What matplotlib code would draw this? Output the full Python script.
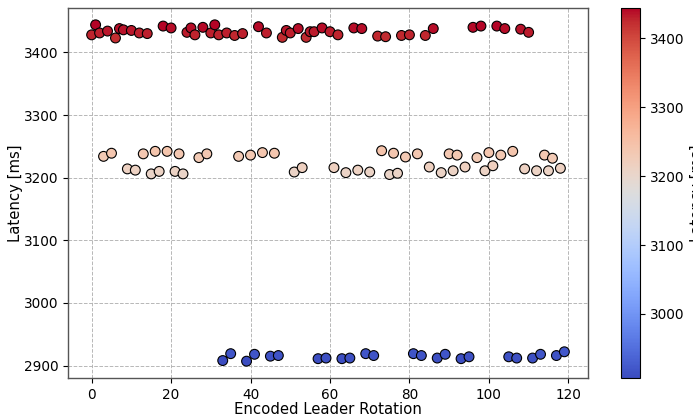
import matplotlib
matplotlib.use("Agg")
import matplotlib.pyplot as plt
import numpy as np

red_x = [0, 1, 2, 4, 6, 7, 8, 10, 12, 14, 18, 20, 24, 25, 26, 28, 30, 31, 32, 34, 36, 38,
         42, 44, 48, 49, 50, 52, 54, 55, 56, 58, 60, 62, 66, 68, 72, 74, 78, 80, 84, 86,
         96, 98, 102, 104, 108, 110]
red_y = [3428, 3444, 3431, 3434, 3423, 3438, 3436, 3435, 3431, 3430, 3442, 3439, 3432, 3439,
         3428, 3440, 3431, 3444, 3428, 3431, 3427, 3430, 3441, 3431, 3424, 3435, 3431, 3438,
         3424, 3433, 3433, 3439, 3433, 3428, 3439, 3438, 3426, 3425, 3427, 3428, 3427, 3438,
         3440, 3442, 3442, 3438, 3437, 3432]

mid_x = [3, 5, 9, 11, 13, 15, 16, 17, 19, 21, 22, 23, 27, 29, 37, 40, 43, 46, 51, 53, 61,
         64, 67, 70, 73, 75, 76, 77, 79, 82, 85, 88, 90, 91, 92, 94, 97, 99, 100, 101, 103,
         106, 109, 112, 114, 115, 116, 118]
mid_y = [3234, 3239, 3214, 3212, 3238, 3206, 3242, 3210, 3242, 3210, 3238, 3206, 3232, 3238,
         3234, 3236, 3240, 3239, 3209, 3216, 3216, 3208, 3212, 3209, 3243, 3205, 3239, 3207,
         3233, 3238, 3217, 3208, 3238, 3211, 3236, 3217, 3232, 3211, 3240, 3219, 3236, 3242,
         3214, 3211, 3236, 3211, 3231, 3215]

blue_x = [33, 35, 39, 41, 45, 47, 57, 59, 63, 65, 69, 71, 81, 83, 87, 89, 93, 95, 105, 107,
          111, 113, 117, 119]
blue_y = [2908, 2919, 2907, 2918, 2915, 2916, 2911, 2912, 2911, 2912, 2919, 2916, 2919, 2916,
          2912, 2918, 2911, 2914, 2914, 2912, 2912, 2918, 2916, 2922]

x = np.array(red_x + mid_x + blue_x)
y = np.array(red_y + mid_y + blue_y)
order = np.argsort(x)
x, y = x[order], y[order]

fig = plt.figure(figsize=(6.93, 4.17), dpi=100)
ax = fig.add_axes([68/693, 1 - 378/417, (588-68)/693, (378-8)/417])
cax = fig.add_axes([621/693, 1 - 378/417, (640-621)/693, (378-8)/417])

sc = ax.scatter(x, y, c=y, cmap="coolwarm", s=50, edgecolors="black", linewidths=0.8, zorder=3)
ax.grid(True, linestyle="--", color="#b0b0b0", linewidth=0.7, alpha=0.9)
ax.set_axisbelow(True)
ax.set_xlabel("Encoded Leader Rotation", fontsize=10.7, labelpad=0)
ax.set_ylabel("Latency [ms]", fontsize=10.7, labelpad=0.5)
ax.tick_params(labelsize=9.8)
for s in ax.spines.values():
    s.set_color("#555555")
    s.set_linewidth(1.0)

cb = fig.colorbar(sc, cax=cax)
cb.set_label("Latency [ms]", fontsize=10.7)
cb.ax.tick_params(labelsize=9.8)

fig.savefig("out.png", dpi=100)
